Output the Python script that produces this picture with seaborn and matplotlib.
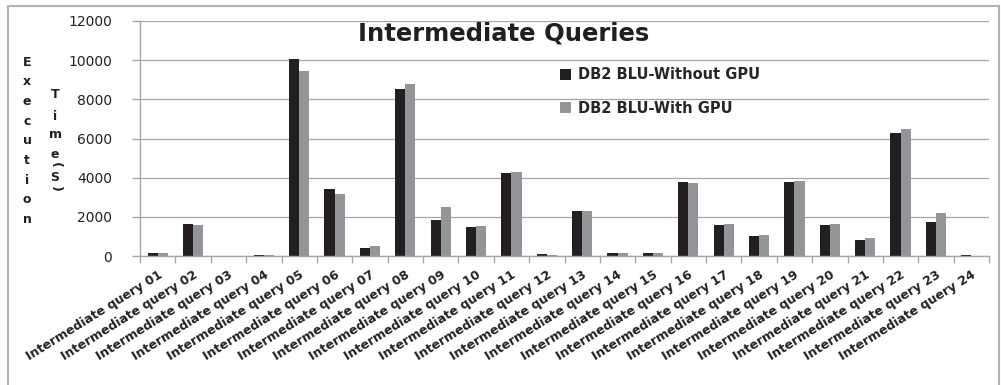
import numpy as np
import pandas as pd
import matplotlib
matplotlib.use("Agg")
import matplotlib.pyplot as plt
from matplotlib.patches import Rectangle
import seaborn as sns

# Execution times (seconds) for the 24 intermediate queries
queries = [f"Intermediate query {i:02d}" for i in range(1, 25)]
without_gpu = [150, 1610, 20, 60, 10080, 3440, 420, 8540, 1830, 1475, 4230, 80,
               2320, 170, 150, 3760, 1590, 1000, 3760, 1560, 800, 6280, 1760, 30]
with_gpu = [150, 1590, 20, 40, 9460, 3170, 490, 8760, 2500, 1510, 4300, 70,
            2320, 170, 170, 3740, 1630, 1070, 3810, 1630, 900, 6470, 2190, 20]
series_names = ["DB2 BLU-Without GPU", "DB2 BLU-With GPU"]
y_ticks = [0, 2000, 4000, 6000, 8000, 10000, 12000]

df = pd.DataFrame({
    "query": queries * 2,
    "time": without_gpu + with_gpu,
    "system": [series_names[0]] * len(queries) + [series_names[1]] * len(queries),
})

sns.set_style("white")
plt.rcParams["font.family"] = ["DejaVu Sans"]

W, H = 1001, 385
fig = plt.figure(figsize=(W / 100, H / 100), dpi=100)
ax = fig.add_axes([140 / W, 1 - 256 / H, (989 - 140) / W, (256 - 21) / H])

grid_c = "#a6a6a6"
sns.barplot(data=df, x="query", y="time", hue="system", order=queries,
            hue_order=series_names, palette=["#231f20", "#939598"],
            width=0.57, linewidth=0, saturation=1, ax=ax)

ax.set_xlim(-0.5, len(queries) - 0.5)
ax.set_ylim(0, 12000)
ax.set_yticks(y_ticks)
ax.set_yticklabels([str(v) for v in y_ticks], fontsize=10, color="#222222")
ax.yaxis.grid(True, color=grid_c, linewidth=0.9)
ax.set_axisbelow(True)
ax.set_xlabel("")
ax.set_ylabel("")

for side in ("top", "right"):
    ax.spines[side].set_visible(False)
for side in ("left", "bottom"):
    ax.spines[side].set_color(grid_c)
    ax.spines[side].set_linewidth(1.0)

ax.tick_params(axis="y", length=6, color=grid_c, width=1.0, pad=14, left=True)
ax.set_xticks(range(len(queries)))
ax.set_xticklabels(queries, rotation=32, ha="right", rotation_mode="anchor",
                   fontsize=9, fontweight="bold", color="#222222")
ax.tick_params(axis="x", which="major", length=0, pad=9)
ax.set_xticks(np.arange(-0.5, len(queries)), minor=True)
ax.tick_params(axis="x", which="minor", length=5, color=grid_c, width=1.0, bottom=True)

sns.move_legend(ax, "upper left", bbox_to_anchor=(553 / W, 1 - 60 / H),
                bbox_transform=fig.transFigure, frameon=False, title=None,
                borderpad=0, handlelength=0.75, handleheight=0.75,
                handletextpad=0.45, labelspacing=1.25,
                prop={"weight": "bold", "size": 10.5})

fig.text(504 / W, 1 - 33 / H, "Intermediate Queries", ha="center", va="center",
         fontsize=17.5, fontweight="bold", color="#231f20")

# Stacked vertical axis caption
for i, ch in enumerate("Execution"):
    fig.text(27 / W, 1 - (62 + i * 19.7) / H, ch, ha="center", va="center",
             fontsize=9, fontweight="bold", color="#231f20")
time_chars = [("T", 95, 0), ("i", 116, 0), ("m", 135, 0), ("e", 154, 0),
              ("(", 165, -90), ("S", 177, 0), (")", 189, -90)]
for ch, y, rot in time_chars:
    fig.text(55 / W, 1 - y / H, ch, ha="center", va="center", rotation=rot,
             fontsize=9, fontweight="bold", color="#231f20")

fig.add_artist(Rectangle((8 / W, -0.1), (999 - 8) / W, 1.1 - 6 / H,
                         transform=fig.transFigure, fill=False,
                         edgecolor="#b4b4b4", linewidth=1.5))

fig.savefig("out.png", dpi=100)
